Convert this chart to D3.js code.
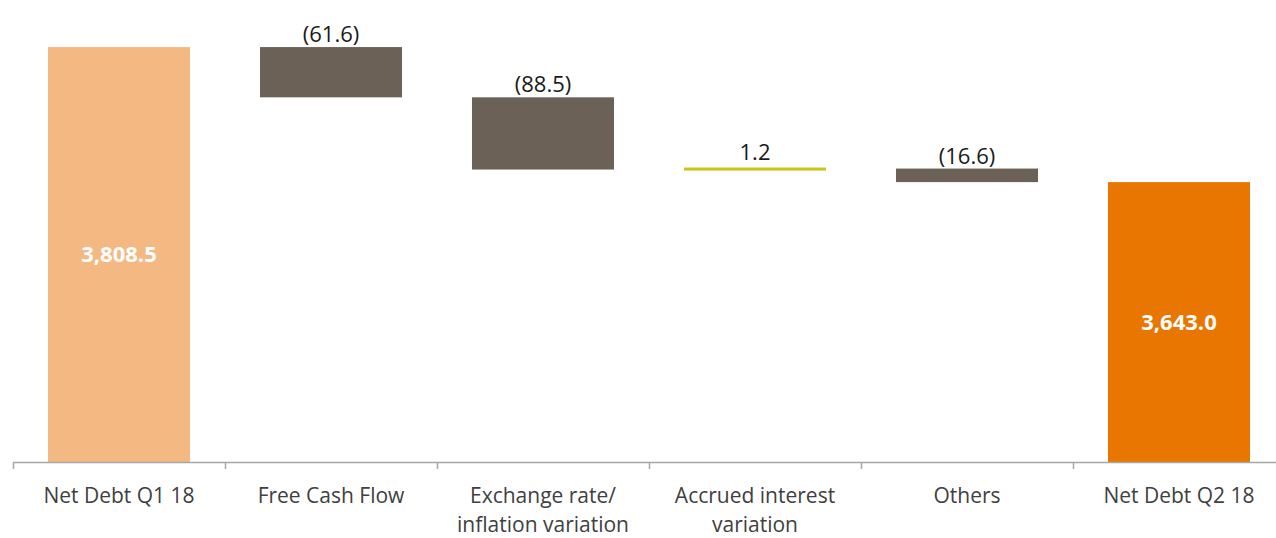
<!DOCTYPE html>
<html>
<head>
<meta charset="utf-8">
<script src="https://cdn.jsdelivr.net/npm/d3@7"></script>
<style>
  html, body { margin: 0; padding: 0; background: #fff; }
  svg { display: block; }
  text { font-family: "Open Sans", sans-serif; }
</style>
</head>
<body>
<svg id="chart" width="1276" height="538"></svg>
<script>
// ---- data ----
const categories = [
  ["Net Debt Q1 18"],
  ["Free Cash Flow"],
  ["Exchange rate/", "inflation variation"],
  ["Accrued interest", "variation"],
  ["Others"],
  ["Net Debt Q2 18"]
];
const values = [3808.5, -61.6, -88.5, 1.2, -16.6, 3643.0];
const kinds = ["total", "delta", "delta", "delta", "delta", "total"];
const valueLabels = ["3,808.5", "(61.6)", "(88.5)", "1.2", "(16.6)", "3,643.0"];
const yDomain = [3300, 3850];

// ---- build waterfall steps ----
let running = 0;
const rows = values.map((v, i) => {
  let start, end;
  if (kinds[i] === "total") { start = yDomain[0]; end = v; running = v; }
  else { start = running; end = running + v; running = end; }
  return { i, key: categories[i].join(" "), lines: categories[i], v, kind: kinds[i], start, end, label: valueLabels[i] };
});

const svg = d3.select("#chart");
const baseY = 462;

const x = d3.scaleBand()
  .domain(rows.map(d => d.key))
  .range([13, 1285])
  .paddingInner(0.33)
  .paddingOuter(0.165);

const y = d3.scaleLinear()
  .domain(yDomain)
  .range([baseY, baseY - (yDomain[1] - yDomain[0]) * 0.816]);

function fillFor(d) {
  if (d.kind === "total") return d.i === 0 ? "#F4B983" : "#E97600";
  return d.v >= 0 ? "#C9C31A" : "#6B6157";
}

// bars
svg.append("g").selectAll("rect")
  .data(rows)
  .join("rect")
  .attr("x", d => x(d.key))
  .attr("width", x.bandwidth())
  .attr("y", d => {
    const top = y(Math.max(d.start, d.end));
    const h = Math.abs(y(d.start) - y(d.end));
    return h < 3 ? (y(d.start) + y(d.end)) / 2 - 1.5 : top;
  })
  .attr("height", d => Math.max(3, Math.abs(y(d.start) - y(d.end))))
  .attr("fill", d => fillFor(d));

// axis
const axisG = svg.append("g")
  .attr("transform", `translate(0,${baseY})`);
const step = x.step();
const tickXs = d3.range(rows.length + 1).map(k => x(rows[0].key) - (step - x.bandwidth()) / 2 + k * step);
axisG.append("line")
  .attr("x1", tickXs[0]).attr("x2", 1276)
  .attr("y1", 0.5).attr("y2", 0.5)
  .attr("stroke", "#A6A6A6").attr("stroke-width", 1.5);
axisG.selectAll("line.tick")
  .data(tickXs)
  .join("line")
  .attr("class", "tick")
  .attr("x1", d => Math.round(d) + 0.5).attr("x2", d => Math.round(d) + 0.5)
  .attr("y1", 0).attr("y2", 7)
  .attr("stroke", "#A6A6A6").attr("stroke-width", 1.5);

// category labels
const catG = svg.append("g");
rows.forEach(d => {
  const t = catG.append("text")
    .attr("x", x(d.key) + x.bandwidth() / 2)
    .attr("y", 503)
    .attr("text-anchor", "middle")
    .attr("fill", "#404040")
    .style("font-size", "21px");
  d.lines.forEach((ln, j) => {
    t.append("tspan")
      .attr("x", x(d.key) + x.bandwidth() / 2)
      .attr("dy", j === 0 ? 0 : 29)
      .text(ln);
  });
});

// value labels
svg.append("g").selectAll("text")
  .data(rows)
  .join("text")
  .attr("x", d => x(d.key) + x.bandwidth() / 2)
  .attr("y", d => {
    if (d.kind === "total") return (y(d.end) + baseY) / 2;
    const top = Math.min(y(d.start), y(d.end));
    return top - (Math.abs(y(d.start) - y(d.end)) < 3 ? 9 : 5);
  })
  .attr("dy", d => d.kind === "total" ? "0.35em" : 0)
  .attr("text-anchor", "middle")
  .attr("fill", d => d.kind === "total" ? "#FFFFFF" : "#1A1A1A")
  .style("font-size", "22px")
  .style("font-weight", d => d.kind === "total" ? 700 : 400)
  .text(d => d.label);
</script>
</body>
</html>
